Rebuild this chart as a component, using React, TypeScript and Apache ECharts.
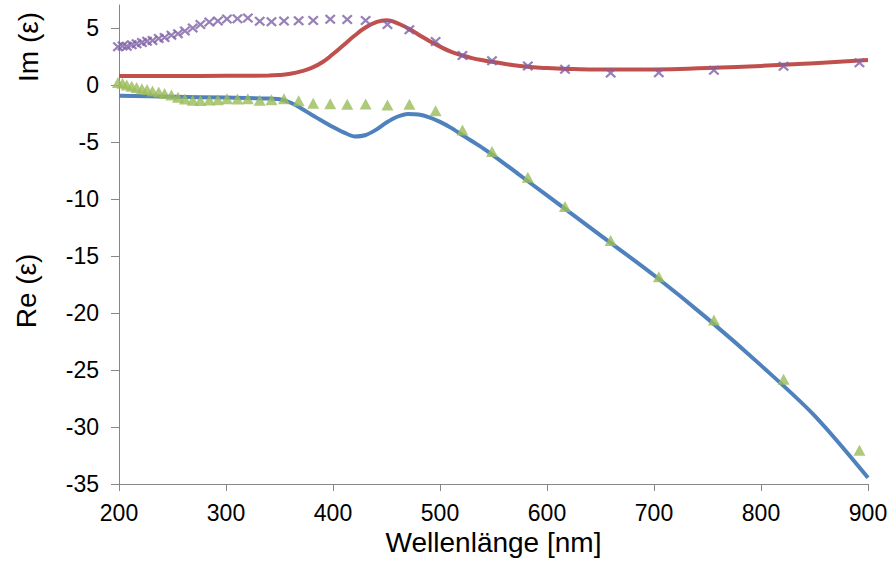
import React, { useEffect, useRef } from "react";
import * as echarts from "echarts";

// Measured points (Au): wavelength [nm]
const wavelengths = [
  199.0, 203.3, 207.3, 211.9, 216.4, 221.4, 226.2, 231.3, 237.1, 242.6, 249.0,
  255.1, 261.6, 268.9, 276.1, 284.4, 292.4, 300.9, 310.7, 320.4, 331.5, 342.5,
  354.2, 367.9, 381.5, 397.4, 413.3, 430.5, 450.9, 471.4, 495.9, 521.0, 548.6,
  582.1, 616.8, 659.5, 704.5, 756.0, 821.1, 892.0,
];
// Re(eps) measured (triangles)
const reMeasured = [
  0.2, 0.14, -0.01, -0.13, -0.23, -0.35, -0.42, -0.55, -0.62, -0.75, -0.89,
  -1.08, -1.24, -1.35, -1.37, -1.33, -1.31, -1.23, -1.24, -1.23, -1.36, -1.31,
  -1.23, -1.4, -1.61, -1.65, -1.7, -1.69, -1.76, -1.7, -2.28, -3.95, -5.84,
  -8.11, -10.66, -13.65, -16.82, -20.61, -25.81, -32.04,
];
// Im(eps) measured (crosses)
const imMeasured = [
  3.33, 3.4, 3.39, 3.51, 3.61, 3.71, 3.83, 3.89, 4.06, 4.16, 4.34,
  4.49, 4.72, 4.98, 5.28, 5.5, 5.6, 5.78, 5.79, 5.85, 5.57, 5.54,
  5.6, 5.61, 5.64, 5.74, 5.72, 5.65, 5.28, 4.84, 3.81, 2.58, 2.11,
  1.66, 1.37, 1.04, 1.07, 1.27, 1.63, 1.93,
];

// Model curve Re(eps) (blue)
const reFitWl = [
  200, 250, 300, 340, 350, 360, 370, 380, 390, 400, 410, 420, 430, 440, 450,
  460, 470, 480, 490, 500, 510, 520, 530, 540, 550, 575, 600, 625, 650, 700,
  750, 800, 850, 900,
];
const reFit = [
  -0.96, -1.04, -1.12, -1.2, -1.27, -1.55, -2.05, -2.62, -3.17, -3.7, -4.17,
  -4.52, -4.42, -3.95, -3.3, -2.8, -2.55, -2.6, -2.85, -3.25, -3.75, -4.35,
  -4.95, -5.55, -6.2, -7.95, -9.7, -11.45, -13.2, -16.7, -20.5, -24.6, -29.0,
  -34.45,
];

// Model curve Im(eps) (red)
const imFitWl = [
  200, 250, 300, 340, 350, 360, 370, 380, 390, 400, 410, 420, 430, 440, 450,
  460, 470, 480, 490, 500, 510, 520, 530, 540, 550, 575, 600, 625, 650, 700,
  750, 800, 850, 900,
];
const imFit = [
  0.78, 0.78, 0.79, 0.81, 0.86, 0.98, 1.18, 1.48, 1.98, 2.7, 3.5, 4.3, 5.0,
  5.48, 5.66, 5.42, 4.95, 4.4, 3.85, 3.35, 2.92, 2.6, 2.34, 2.15, 2.0, 1.65,
  1.47, 1.38, 1.34, 1.35, 1.48, 1.66, 1.9, 2.18,
];

const xTicks = [200, 300, 400, 500, 600, 700, 800, 900];
const yTicks = [-35, -30, -25, -20, -15, -10, -5, 0, 5];

const FONT = "'Liberation Sans', Arial, sans-serif";
const CROSS =
  "path://M1.5,0 L5,3.5 L8.5,0 L10,1.5 L6.5,5 L10,8.5 L8.5,10 L5,6.5 L1.5,10 L0,8.5 L3.5,5 L0,1.5 Z";

export default function App() {
  const ref = useRef<HTMLDivElement>(null);

  useEffect(() => {
    if (!ref.current) return;
    const chart = echarts.init(ref.current, undefined, { renderer: "svg" });
    const pairs = (xs: number[], ys: number[]) => xs.map((x, i) => [x, ys[i]]);
    const axisColor = "#868686";
    chart.setOption({
      animation: false,
      backgroundColor: "#ffffff",
      grid: { left: 119, right: 23, top: 5, bottom: 88 },
      xAxis: {
        type: "value",
        min: xTicks[0],
        max: xTicks[xTicks.length - 1],
        interval: 100,
        axisLine: { show: true, onZero: false, lineStyle: { color: axisColor, width: 1 } },
        axisTick: { show: true, length: 7, lineStyle: { color: axisColor } },
        splitLine: { show: false },
        axisLabel: { fontSize: 23, color: "#000", fontFamily: FONT, margin: 17 },
        name: "Wellenlänge [nm]",
        nameLocation: "middle",
        nameGap: 44,
        nameTextStyle: { fontSize: 28, color: "#000", fontFamily: FONT },
      },
      yAxis: {
        type: "value",
        min: -35,
        max: 7,
        interval: 5,
        axisLine: { show: true, onZero: false, lineStyle: { color: axisColor, width: 1 } },
        axisTick: { show: true, length: 8, lineStyle: { color: axisColor }, customValues: yTicks },
        splitLine: { show: false },
        axisLabel: {
          fontSize: 23,
          color: "#000",
          fontFamily: FONT,
          margin: 20,
          customValues: yTicks,
        },
      },
      graphic: [
        {
          type: "text",
          x: 28,
          y: 47,
          rotation: Math.PI / 2,
          style: {
            text: "Im (ε)",
            fontSize: 28,
            fontFamily: FONT,
            fill: "#000",
            textAlign: "center",
            textVerticalAlign: "middle",
          },
        },
        {
          type: "text",
          x: 26,
          y: 291,
          rotation: Math.PI / 2,
          style: {
            text: "Re (ε)",
            fontSize: 28,
            fontFamily: FONT,
            fill: "#000",
            textAlign: "center",
            textVerticalAlign: "middle",
          },
        },
      ],
      series: [
        {
          type: "line",
          name: "Re fit",
          data: pairs(reFitWl, reFit),
          showSymbol: false,
          smooth: 0.3,
          lineStyle: { color: "#4F81BD", width: 4 },
          z: 2,
        },
        {
          type: "line",
          name: "Im fit",
          data: pairs(imFitWl, imFit),
          showSymbol: false,
          smooth: 0.5,
          lineStyle: { color: "#C0504D", width: 4 },
          z: 2,
        },
        {
          type: "scatter",
          name: "Re",
          data: pairs(wavelengths, reMeasured),
          symbol: "triangle",
          symbolSize: [12, 11],
          clip: false,
          itemStyle: { color: "#9BBB59" },
          z: 3,
        },
        {
          type: "scatter",
          name: "Im",
          data: pairs(wavelengths, imMeasured),
          symbol: CROSS,
          symbolSize: [11, 10],
          clip: false,
          itemStyle: { color: "#7E62A8" },
          z: 4,
        },
      ],
    });
    return () => chart.dispose();
  }, []);

  return (
    <div
      ref={ref}
      style={{ position: "fixed", left: 0, top: 0, width: 891, height: 572 }}
    />
  );
}
